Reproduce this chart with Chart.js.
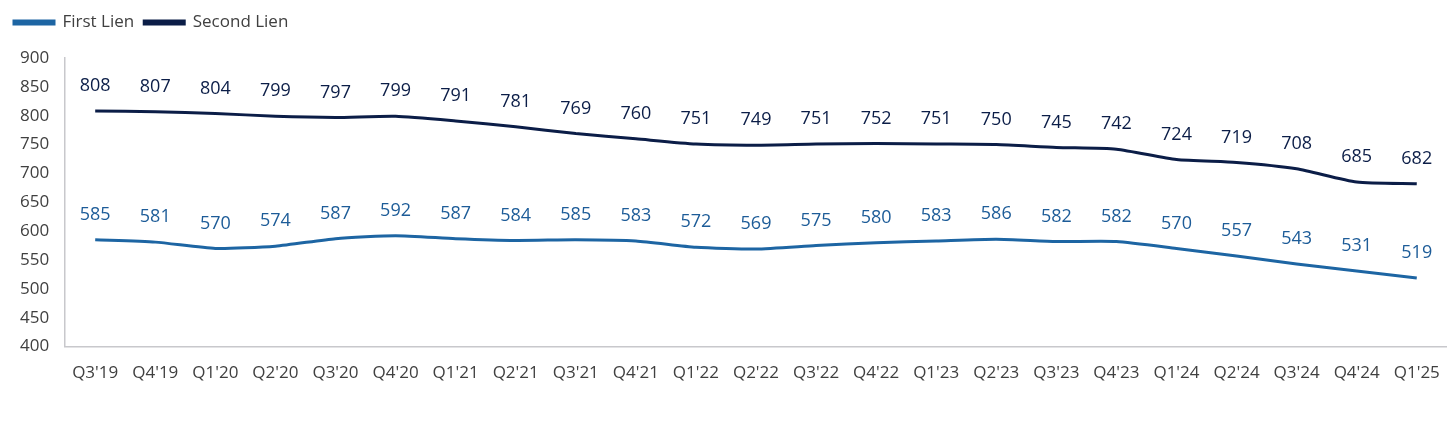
<!DOCTYPE html>
<html>
<head>
<meta charset="utf-8">
<script src="https://cdn.jsdelivr.net/npm/chart.js@4/dist/chart.umd.min.js"></script>
<style>
  html, body { margin: 0; padding: 0; background: #fff; }
  #wrap { width: 1456px; height: 426px; }
</style>
</head>
<body>
<div id="wrap"><canvas id="myChart"></canvas></div>
<script>
var quarters = ["Q3'19", "Q4'19", "Q1'20", "Q2'20", "Q3'20", "Q4'20", "Q1'21", "Q2'21", "Q3'21", "Q4'21",
    "Q1'22", "Q2'22", "Q3'22", "Q4'22", "Q1'23", "Q2'23", "Q3'23", "Q4'23", "Q1'24", "Q2'24", "Q3'24", "Q4'24", "Q1'25"];
var firstLien = [585, 581, 570, 574, 587, 592, 587, 584, 585, 583, 572, 569, 575, 580, 583, 586, 582, 582, 570, 557, 543, 531, 519];
var secondLien = [808, 807, 804, 799, 797, 799, 791, 781, 769, 760, 751, 749, 751, 752, 751, 750, 745, 742, 724, 719, 708, 685, 682];
var yMin = 400;
var yMax = 900;
var yStep = 50;

var fontFamily = "'Open Sans', 'Noto Sans', sans-serif";
var firstColor = "#1d65a3";
var secondColor = "#0b1d47";

// draws the value above each point
var pointLabels = {
    id: 'pointLabels',
    afterDatasetsDraw: function (chart) {
        var ctx = chart.ctx;
        ctx.save();
        ctx.font = "18px " + fontFamily;
        ctx.textAlign = 'center';
        ctx.textBaseline = 'middle';
        chart.data.datasets.forEach(function (ds, i) {
            var meta = chart.getDatasetMeta(i);
            ctx.fillStyle = ds.labelColor;
            meta.data.forEach(function (pt, j) {
                ctx.fillText(ds.data[j], pt.x, pt.y - 25);
            });
        });
        ctx.restore();
    }
};

// more room under the legend
var legendGap = {
    id: 'legendGap',
    beforeInit: function (chart) {
        var fit = chart.legend.fit;
        chart.legend.fit = function () {
            fit.bind(chart.legend)();
            this.height += 17;
        };
    }
};

new Chart("myChart", {
    type: "line",
    data: {
        labels: quarters,
        datasets: [{
            label: "First Lien",
            data: firstLien,
            borderColor: firstColor,
            backgroundColor: firstColor,
            labelColor: "#1d5c98",
            borderWidth: 3,
            pointRadius: 0,
            tension: 0.2
        }, {
            label: "Second Lien",
            data: secondLien,
            borderColor: secondColor,
            backgroundColor: secondColor,
            labelColor: "#0b1d47",
            borderWidth: 3,
            pointRadius: 0,
            tension: 0.2
        }]
    },
    options: {
        responsive: true,
        maintainAspectRatio: false,
        animation: false,
        layout: { padding: { left: 4, right: 8, top: 4, bottom: 27 } },
        plugins: {
            legend: {
                align: 'start',
                labels: {
                    boxWidth: 40,
                    boxHeight: 3,
                    padding: 10,
                    color: "#404040",
                    font: { family: fontFamily, size: 17 }
                }
            },
            tooltip: { enabled: false }
        },
        scales: {
            x: {
                offset: true,
                grid: { display: false, drawTicks: false },
                border: { display: true, color: "#c8c8cc", width: 1.5 },
                ticks: {
                    color: "#404040",
                    maxRotation: 0,
                    autoSkip: false,
                    padding: 16,
                    font: { family: fontFamily, size: 17 }
                }
            },
            y: {
                min: yMin,
                max: yMax,
                grid: { display: false, drawTicks: false },
                border: { display: true, color: "#c8c8cc", width: 1.5 },
                ticks: {
                    stepSize: yStep,
                    color: "#404040",
                    padding: 16,
                    font: { family: fontFamily, size: 17 }
                }
            }
        }
    },
    plugins: [pointLabels, legendGap]
});
</script>
</body>
</html>
